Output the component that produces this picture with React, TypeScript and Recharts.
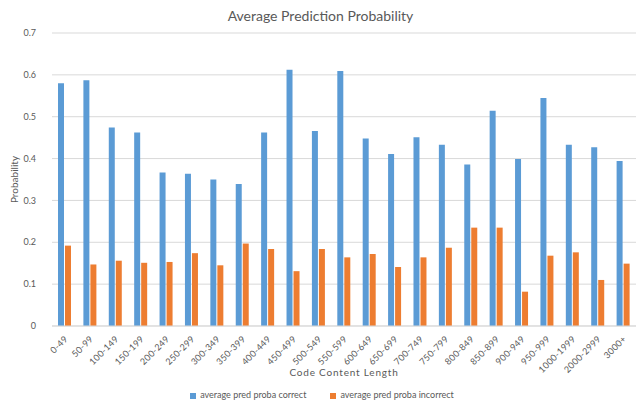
import { Bar, BarChart, CartesianGrid, Legend, XAxis, YAxis } from 'recharts';

// Length buckets on the category axis
const BUCKETS = [
  '0-49', '50-99', '100-149', '150-199', '200-249', '250-299', '300-349', '350-399',
  '400-449', '450-499', '500-549', '550-599', '600-649', '650-699', '700-749', '750-799',
  '800-849', '850-899', '900-949', '950-999', '1000-1999', '2000-2999', '3000+',
];

const CORRECT = [
  0.58, 0.587, 0.474, 0.462, 0.367, 0.364, 0.35, 0.339, 0.462, 0.612, 0.466, 0.609,
  0.448, 0.411, 0.451, 0.433, 0.386, 0.514, 0.399, 0.545, 0.433, 0.427, 0.394,
];

const INCORRECT = [
  0.192, 0.147, 0.156, 0.151, 0.153, 0.174, 0.145, 0.197, 0.184, 0.131, 0.184, 0.164,
  0.172, 0.141, 0.164, 0.187, 0.235, 0.235, 0.082, 0.168, 0.176, 0.11, 0.149,
];

const Y_TICKS = [0, 0.1, 0.2, 0.3, 0.4, 0.5, 0.6, 0.7];

const FONT = 'Lato, "Open Sans", sans-serif';
const TEXT = '#595959';

const data = BUCKETS.map((bucket, i) => ({
  bucket,
  correct: CORRECT[i],
  incorrect: INCORRECT[i],
}));

function XTick({ x, y, payload }: any) {
  return (
    <text
      x={x + 2}
      y={y + 4}
      transform={`rotate(-45, ${x + 2}, ${y + 4})`}
      textAnchor="end"
      dominantBaseline="middle"
      fontSize={9}
      fill={TEXT}
      fontFamily={FONT}
      letterSpacing={0.3}
    >
      {payload.value}
    </text>
  );
}

export default function App() {
  return (
    <div style={{ position: 'absolute', left: 0, top: 0, width: 641, height: 404, background: '#fff' }}>
      <div
        style={{
          position: 'absolute',
          top: 7,
          left: 0,
          width: 641,
          textAlign: 'center',
          fontFamily: FONT,
          fontSize: 14,
          color: TEXT,
        }}
      >
        Average Prediction Probability
      </div>
      <BarChart
        width={641}
        height={404}
        data={data}
        margin={{ top: 33, right: 5, left: 0, bottom: 0 }}
        barSize={6}
        barGap={1}
      >
        <CartesianGrid vertical={false} stroke="#D9D9D9" />
        <XAxis
          dataKey="bucket"
          interval={0}
          height={58}
          tick={<XTick />}
          tickLine={false}
          axisLine={{ stroke: '#D9D9D9' }}
          label={{
            value: 'Code Content Length',
            position: 'insideBottom',
            offset: 8,
            fontSize: 10,
            fill: TEXT,
            fontFamily: FONT,
            letterSpacing: 0.8,
          }}
        />
        <YAxis
          width={52}
          domain={[0, 0.7]}
          ticks={Y_TICKS}
          axisLine={false}
          tickLine={false}
          tick={{ fontSize: 9, fill: TEXT, fontFamily: FONT }}
          tickMargin={10}
          label={{
            value: 'Probability',
            angle: -90,
            position: 'insideLeft',
            offset: 14,
            fontSize: 10,
            fill: TEXT,
            fontFamily: FONT,
            style: { textAnchor: 'middle' },
          }}
        />
        <Legend
          verticalAlign="bottom"
          height={20}
          iconType="square"
          iconSize={6}
          wrapperStyle={{ fontSize: 9, fontFamily: FONT, color: TEXT, paddingLeft: 16, bottom: -5 }}
          formatter={(value: string) => <span style={{ color: TEXT, marginRight: 14 }}>{value}</span>}
        />
        <Bar dataKey="correct" name="average pred proba correct" fill="#5B9BD5" isAnimationActive={false} />
        <Bar dataKey="incorrect" name="average pred proba incorrect" fill="#ED7D31" isAnimationActive={false} />
      </BarChart>
    </div>
  );
}
